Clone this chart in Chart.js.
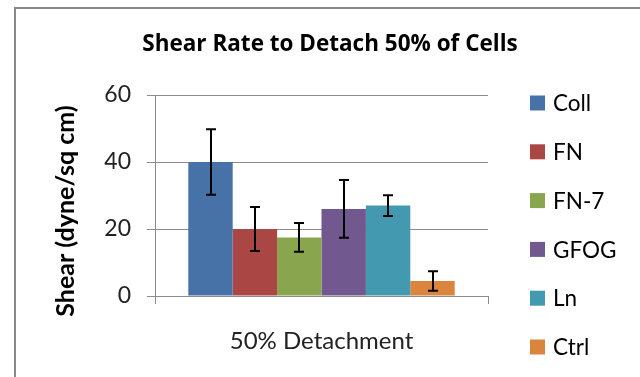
<!DOCTYPE html>
<html>
<head>
<meta charset="utf-8">
<title>Shear Rate to Detach 50% of Cells</title>
<script src="https://cdn.jsdelivr.net/npm/chart.js@4.4.0/dist/chart.umd.min.js"></script>
<style>
    html, body { margin: 0; padding: 0; background: #fff; overflow: hidden; }
    #wrap { position: relative; width: 640px; height: 377px; }
    #frame { position: absolute; left: 14px; top: 7px; width: 700px; height: 420px; border: 2px solid #8a8a8a; box-sizing: border-box; }
    canvas { position: absolute; left: 0; top: 0; }
</style>
</head>
<body>
<div id="wrap">
    <div id="frame"></div>
    <canvas id="shear-chart" width="640" height="377"></canvas>
</div>
<script>
// --- Data ---
const categories = ['50% Detachment'];
const seriesNames = ['Coll', 'FN', 'FN-7', 'GFOG', 'Ln', 'Ctrl'];
const seriesValues = [40, 20, 17.5, 26, 27, 4.5];
const seriesErrors = [9.8, 6.6, 4.3, 8.6, 3.1, 2.9];
const yTicks = [0, 20, 40, 60];

const seriesColors = ['#4672a8', '#aa4744', '#89a54e', '#71598f', '#4299b0', '#db843d'];

const chartTitle = 'Shear Rate to Detach 50% of Cells';
const yAxisTitle = 'Shear (dyne/sq cm)';
const FONT = 'Lato, "Open Sans", sans-serif';

// Draws the black error bars on top of each bar
const errorBarPlugin = {
    id: 'errorBars',
    afterDatasetsDraw(chart) {
        const ctx = chart.ctx;
        const yScale = chart.scales.y;
        ctx.save();
        ctx.strokeStyle = '#000';
        ctx.lineWidth = 2;
        chart.data.datasets.forEach((ds, i) => {
            const meta = chart.getDatasetMeta(i);
            meta.data.forEach((bar, j) => {
                const v = ds.data[j];
                const e = ds.errors[j];
                const top = yScale.getPixelForValue(v + e);
                const bottom = yScale.getPixelForValue(v - e);
                const x = Math.round(bar.x);
                const cap = 5;
                ctx.beginPath();
                ctx.moveTo(x, top);
                ctx.lineTo(x, bottom);
                ctx.moveTo(x - cap, top);
                ctx.lineTo(x + cap, top);
                ctx.moveTo(x - cap, bottom);
                ctx.lineTo(x + cap, bottom);
                ctx.stroke();
            });
        });
        ctx.restore();
    }
};

// Title, rotated y title and the right-hand legend
const labelsPlugin = {
    id: 'excelLabels',
    afterDraw(chart) {
        const ctx = chart.ctx;
        ctx.save();
        ctx.fillStyle = '#000';

        ctx.font = `bold 22.5px "Open Sans", sans-serif`;
        ctx.textAlign = 'center';
        ctx.textBaseline = 'middle';
        ctx.fillText(chartTitle, 330, 45);

        ctx.save();
        ctx.translate(66, 211);
        ctx.rotate(-Math.PI / 2);
        ctx.font = `bold 25px ${FONT}`;
        ctx.fillText(yAxisTitle, 0, 0);
        ctx.restore();

        ctx.font = `22.5px ${FONT}`;
        ctx.textAlign = 'left';
        chart.data.datasets.forEach((ds, i) => {
            const y = 103 + i * 48.8;
            ctx.fillStyle = ds.backgroundColor;
            ctx.fillRect(530, y - 7.5, 15, 15);
            ctx.fillStyle = '#000';
            ctx.fillText(ds.label, 553, y + 1);
        });
        ctx.restore();
    }
};

const datasets = seriesNames.map((name, i) => ({
    label: name,
    data: [seriesValues[i]],
    errors: [seriesErrors[i]],
    backgroundColor: seriesColors[i],
    borderWidth: 0,
    categoryPercentage: 0.8,
    barPercentage: 1.0
}));

const ctx = document.getElementById('shear-chart').getContext('2d');
new Chart(ctx, {
    type: 'bar',
    data: { labels: categories, datasets: datasets },
    options: {
        responsive: false,
        animation: false,
        devicePixelRatio: 1,
        layout: { padding: { left: 15, right: 152, top: 95, bottom: 25 } },
        plugins: {
            legend: { display: false },
            title: { display: false },
            tooltip: { enabled: false }
        },
        scales: {
            x: {
                afterFit: (scale) => { scale.height = 56; },
                grid: { drawOnChartArea: false, color: '#8c8c8c', tickLength: 8 },
                border: { color: '#8c8c8c' },
                ticks: { color: '#222', padding: 23, font: { family: FONT, size: 24 } }
            },
            y: {
                min: 0,
                max: 60,
                afterFit: (scale) => { scale.width = 140; },
                afterBuildTicks: (scale) => { scale.ticks = yTicks.map(v => ({ value: v })); },
                grid: { color: '#8c8c8c', tickLength: 8 },
                border: { color: '#8c8c8c' },
                ticks: { color: '#222', padding: 16, font: { family: FONT, size: 23 } }
            }
        }
    },
    plugins: [errorBarPlugin, labelsPlugin]
});
</script>
</body>
</html>
